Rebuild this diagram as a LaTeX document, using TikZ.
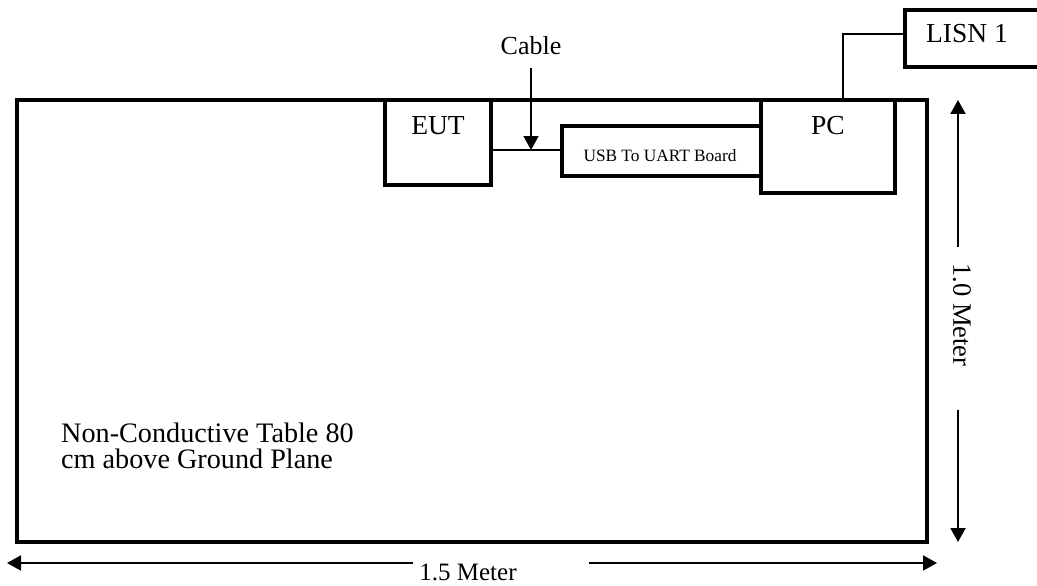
\documentclass[tikz,border=0pt]{standalone}
\usepackage{fontspec}
\setmainfont{Liberation Serif}
\usetikzlibrary{arrows.meta}
\begin{document}
\begin{tikzpicture}[x=1pt,y=-1pt,
  thick box/.style={draw=black,line width=3.2pt,fill=white},
  wire/.style={draw=black,line width=1.6pt},
  dimarrow/.style={draw=black,line width=2pt,-{Triangle[length=14pt,width=15pt]}},
  lbl/.style={inner sep=0pt,font=\fontsize{27.5}{30}\selectfont,anchor=base},
  every node/.style={inner sep=0pt}]
\useasboundingbox (0,0) rectangle (1037,586);
% table
\draw[thick box] (17,100) rectangle (927,542);
% boxes
\coordinate (eutNW) at (385,100); \coordinate (eutSE) at (491,185);
\coordinate (pcNW) at (761,100); \coordinate (pcSE) at (895,193);
\coordinate (usbNW) at (562,126); \coordinate (usbSE) at (761,176);
\coordinate (lisnNW) at (905,10); \coordinate (lisnSE) at (1050,67);
\draw[thick box] (eutNW) rectangle (eutSE);
\draw[thick box] (usbNW) rectangle (usbSE);
\draw[thick box] (pcNW) rectangle (pcSE);
\draw[thick box] (lisnNW) rectangle (lisnSE);
\node[lbl] (eut) at (438,135) {EUT};
\node[lbl] (pc) at (828,135) {PC};
\node[lbl] (lisn) at (967,43) {LISN 1};
\node[inner sep=0pt,font=\fontsize{17.3}{20}\selectfont,anchor=base] (usb) at (660,161) {USB To UART Board};
\node[lbl,font=\fontsize{26}{30}\selectfont] (cable) at (531,55) {Cable};
% connectors
\coordinate (eutR) at (491,150);
\coordinate (usbL) at (562,150);
\draw[wire] (eutR) -- (usbL);
\coordinate (pcTop) at (843,100);
\coordinate (lisnL) at (905,34);
\draw[wire] (pcTop) |- (lisnL);
\coordinate (cabTop) at (531,68);
\coordinate (cabTip) at (531,150);
\draw[wire,-{Triangle[length=14pt,width=15pt]}] (cabTop) -- (cabTip);
% table text
\node[inner sep=0pt,font=\fontsize{28.2}{28}\selectfont,anchor=base west] (tabletxt) at (61,442) {Non-Conductive Table 80};
\node[inner sep=0pt,font=\fontsize{28.2}{28}\selectfont,anchor=base west] (tabletxt2) at (61,468) {cm above Ground Plane};
% vertical dimension
\node[font=\fontsize{26.5}{30}\selectfont,rotate=-90] (vtxt) at (962,315) {1.0 Meter};
\coordinate (vtop) at (958,100);
\coordinate (vbot) at (958,542);
\coordinate (vg1) at (958,247);
\coordinate (vg2) at (958,410);
\draw[dimarrow] (vg1) -- (vtop);
\draw[dimarrow] (vg2) -- (vbot);
% horizontal dimension
\node[lbl,font=\fontsize{25}{30}\selectfont] (htxt) at (468,580) {1.5 Meter};
\coordinate (hleft) at (7,563);
\coordinate (hright) at (937,563);
\coordinate (hg1) at (413,563);
\coordinate (hg2) at (589,563);
\draw[dimarrow] (hg1) -- (hleft);
\draw[dimarrow] (hg2) -- (hright);
\end{tikzpicture}
\end{document}
